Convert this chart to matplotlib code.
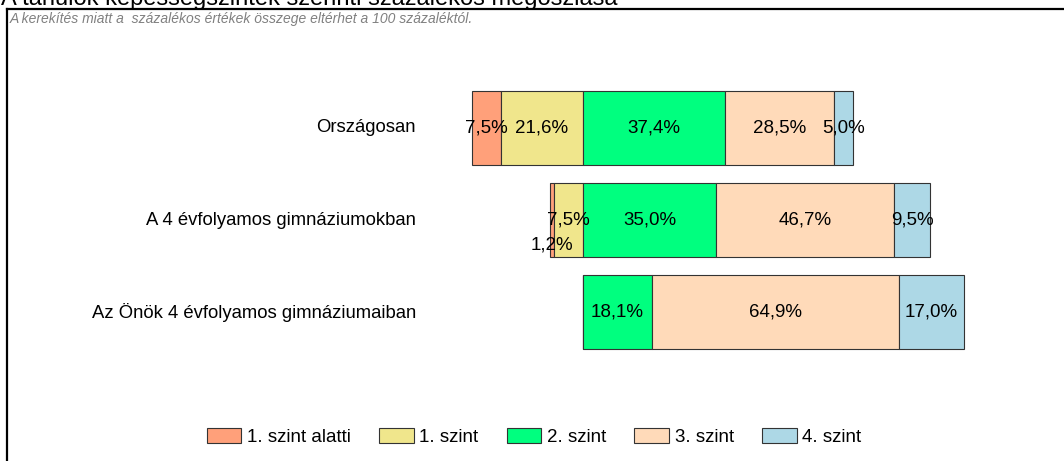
import numpy as np
import matplotlib.pyplot as plt
from matplotlib.lines import Line2D
from matplotlib.patches import Patch

plt.rcParams['font.family'] = ['Liberation Sans', 'DejaVu Sans']

categories = ["Országosan", "A 4 évfolyamos gimnáziumokban", "Az Önök 4 évfolyamos gimnáziumaiban"]
levels = ["1. szint alatti", "1. szint", "2. szint", "3. szint", "4. szint"]
below1 = [7.5, 1.2, 0.0]
level1 = [21.6, 7.5, 0.0]
level2 = [37.4, 35.0, 18.1]
level3 = [28.5, 46.7, 64.9]
level4 = [5.0, 9.5, 17.0]
colors = ["#FFA07A", "#F0E68C", "#00FF7F", "#FFDAB9", "#ADD8E6"]

series = [below1, level1, level2, level3, level4]
data = np.array(series)

fig = plt.figure(figsize=(10.64, 4.61), dpi=100)
ax = fig.add_axes([0, 0, 1, 1])
ax.axis("off")

# scale: 583 px is the zero point, 3.81 px per percent, 92 px per row
ax.set_xlim(-583 / 3.81, (1064 - 583) / 3.81)
ax.set_ylim((461 - 128) / 92, -128 / 92)

y = np.arange(len(categories))
left = -(data[0] + data[1])
for i in range(len(levels)):
    ax.barh(y, data[i], left=left, height=0.8, color=colors[i],
            edgecolor="#333333", linewidth=0.8)
    for j in range(len(categories)):
        v = data[i][j]
        if v <= 0:
            continue
        dy = 0.0
        if v < 3:
            dy = 0.27
        ax.text(left[j] + v / 2, y[j] + dy, f"{v:.1f}%".replace(".", ","),
                ha="center", va="center", fontsize=13.5)
    left = left + data[i]

for j, c in enumerate(categories):
    ax.text((416 - 583) / 3.81, y[j], c, ha="right", va="center", fontsize=13.3)

# title (cut off at the top) and note
fig.text(1 / 1064, 1 - 5 / 461, "A tanulók képességszintek szerinti százalékos megoszlása",
         ha="left", va="baseline", fontsize=17)
fig.text(10 / 1064, 1 - 19 / 461,
         "A kerekítés miatt a  százalékos értékek összege eltérhet a 100 százaléktól.",
         ha="left", va="center", fontsize=10, style="italic", color="#808080")

# frame
fig.add_artist(Line2D([7 / 1064, 1], [1 - 9 / 461, 1 - 9 / 461], color="black", lw=1.6))
fig.add_artist(Line2D([7 / 1064, 7 / 1064], [0, 1 - 9 / 461], color="black", lw=1.6))

handles = [Patch(facecolor=colors[i], edgecolor="#333333", linewidth=0.8) for i in range(len(levels))]
fig.legend(handles, levels, loc="center", bbox_to_anchor=(534 / 1064, 1 - 437 / 461),
           ncol=5, frameon=False, fontsize=13.5, handlelength=1.85, handleheight=0.9,
           handletextpad=0.3, columnspacing=1.5)

fig.savefig("out.png", dpi=100)
